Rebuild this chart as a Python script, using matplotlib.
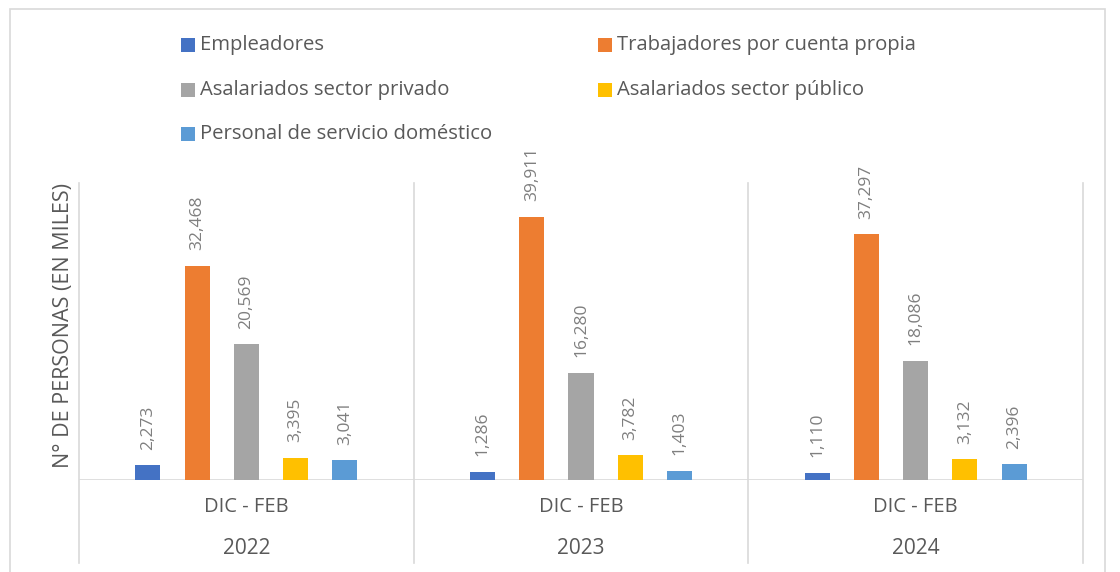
import matplotlib
matplotlib.use("Agg")
import matplotlib.pyplot as plt
from matplotlib.patches import Rectangle
from matplotlib.lines import Line2D
import numpy as np

plt.rcParams['font.family'] = ['Open Sans', 'DejaVu Sans']

years = ["2022", "2023", "2024"]
period = "DIC - FEB"
series = ["Empleadores", "Trabajadores por cuenta propia", "Asalariados sector privado",
          "Asalariados sector público", "Personal de servicio doméstico"]
empleadores = [2273, 1286, 1110]
cuenta_propia = [32468, 39911, 37297]
sector_privado = [20569, 16280, 18086]
sector_publico = [3395, 3782, 3132]
domestico = [3041, 1403, 2396]
values = [empleadores, cuenta_propia, sector_privado, sector_publico, domestico]
colors = ["#4472C4", "#ED7D31", "#A5A5A5", "#FFC000", "#5B9BD5"]

W, H = 1120, 572
fig = plt.figure(figsize=(W / 100, H / 100), dpi=100)

def fx(px):
    return px / W

def fy(py):
    return 1 - py / H

# outer frame
fig.patches.append(Rectangle((fx(10), fy(585)), fx(1105) - fx(10), fy(9) - fy(585),
                             transform=fig.transFigure, fill=False, edgecolor="#D9D9D9", lw=1.2))

left, right, top, bottom = 79, 1083, 183, 480
ax = fig.add_axes([fx(left), fy(bottom), fx(right) - fx(left), fy(top) - fy(bottom)])
x = np.arange(len(years))
step = 0.147
width = 0.075
for i, (vals, c) in enumerate(zip(values, colors)):
    pos = x + (i - 2) * step
    ax.bar(pos, vals, width, color=c, zorder=3)
    for p, v in zip(pos, vals):
        ax.annotate(f"{v:,}", (p, v), xytext=(0, 11), textcoords="offset points",
                    rotation=90, ha="center", va="bottom", fontsize=12.5, color="#7F7F7F")

ax.set_xlim(-0.5, 2.5)
ax.set_ylim(0, 45000)
for s in ax.spines.values():
    s.set_visible(False)
ax.set_yticks([])
ax.set_xticks([])
ax.axhline(0, color="#D9D9D9", lw=1.2, zorder=2)
trans = ax.get_xaxis_transform()
bot_frac = (bottom - 563) / (bottom - top)
for xv in [-0.5, 0.5, 1.5, 2.5]:
    ax.add_line(Line2D([xv, xv], [bot_frac, 1], transform=trans, color="#D9D9D9", lw=1.2,
                       clip_on=False, zorder=1))
y1 = (bottom - 507) / (bottom - top)
y2 = (bottom - 548) / (bottom - top)
for xi, yr in zip(x, years):
    ax.text(xi, y1, period, transform=trans, ha="center", va="center", fontsize=14.5,
            color="#595959")
    ax.text(xi, y2, yr, transform=trans, ha="center", va="center", fontsize=15,
            color="#595959")

fig.text(fx(64), fy((top + bottom) / 2 - 6), "N° DE PERSONAS (EN MILES)", rotation=90,
         ha="center", va="center", fontsize=15.5, color="#595959")

# legend
leg_pos = [(181, 45), (598, 45), (181, 90), (598, 90), (181, 134)]
for (lx, ly), name, c in zip(leg_pos, series, colors):
    fig.patches.append(Rectangle((fx(lx), fy(ly + 7)), fx(14), 14 / H,
                                 transform=fig.transFigure, facecolor=c, edgecolor="none"))
    fig.text(fx(lx + 19), fy(ly), name, ha="left", va="center", fontsize=14.6, color="#595959")

fig.savefig("out.png", dpi=100)
